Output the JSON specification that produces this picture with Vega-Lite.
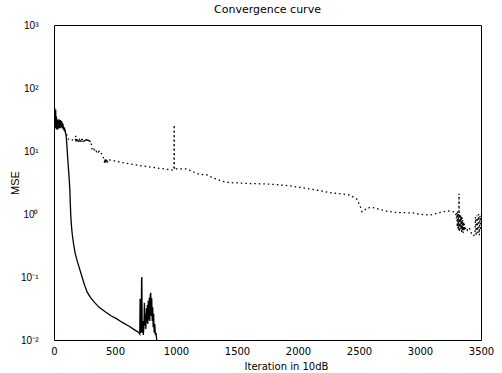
{
  "$schema": "https://vega.github.io/schema/vega-lite/v6.json",
  "autosize": {"type": "none"},
  "width": 427,
  "height": 315,
  "padding": {"left": 54, "top": 25, "right": 21, "bottom": 33},
  "background": "white",
  "config": {
    "view": {"stroke": "black", "strokeWidth": 1},
    "axis": {"domain": false, "grid": false, "ticks": false, "labelColor": "black", "titleColor": "black", "labelFlush": false, "labelOverlap": false}
  },
  "title": {"text": "Convergence curve", "font": "DejaVu Sans", "fontSize": 11, "fontWeight": "normal", "color": "black", "offset": 5},
  "datasets": {
    "solid": [
      {"it":0,"mse":30},{"it":2,"mse":55},{"it":4,"mse":26},{"it":6,"mse":48},{"it":8,"mse":23},{"it":10,"mse":40},{"it":12,"mse":27},{"it":14,"mse":45},{"it":16,"mse":24},{"it":18,"mse":36},{"it":20,"mse":22},{"it":23,"mse":33},{"it":26,"mse":25},{"it":29,"mse":31},{"it":32,"mse":22},{"it":35,"mse":30},{"it":38,"mse":24},{"it":41,"mse":32},{"it":44,"mse":23},{"it":47,"mse":29},{"it":50,"mse":25},{"it":53,"mse":31},{"it":56,"mse":23},{"it":59,"mse":28},{"it":62,"mse":30},{"it":65,"mse":24},{"it":68,"mse":28},{"it":71,"mse":23},{"it":74,"mse":27},{"it":77,"mse":22},{"it":80,"mse":24},{"it":84,"mse":21},{"it":88,"mse":22},{"it":92,"mse":20},{"it":96,"mse":19},{"it":100,"mse":17},{"it":105,"mse":13},{"it":110,"mse":9},{"it":115,"mse":6.5},{"it":120,"mse":4.8},{"it":125,"mse":3.5},{"it":130,"mse":2.4},{"it":134,"mse":1.4},{"it":138,"mse":0.9},{"it":143,"mse":0.65},{"it":150,"mse":0.47},{"it":160,"mse":0.34},{"it":173,"mse":0.24},{"it":190,"mse":0.18},{"it":205,"mse":0.145},{"it":230,"mse":0.1},{"it":250,"mse":0.075},{"it":271,"mse":0.058},{"it":300,"mse":0.047},{"it":330,"mse":0.04},{"it":370,"mse":0.033},{"it":420,"mse":0.028},{"it":470,"mse":0.024},{"it":509,"mse":0.022},{"it":560,"mse":0.019},{"it":616,"mse":0.0165},{"it":660,"mse":0.0145},{"it":698,"mse":0.013},{"it":703,"mse":0.0125},{"it":706,"mse":0.045},{"it":709,"mse":0.013},{"it":714,"mse":0.014},{"it":718,"mse":0.09},{"it":720,"mse":0.1},{"it":723,"mse":0.013},{"it":728,"mse":0.02},{"it":732,"mse":0.012},{"it":737,"mse":0.016},{"it":741,"mse":0.039},{"it":745,"mse":0.017},{"it":749,"mse":0.026},{"it":753,"mse":0.015},{"it":757,"mse":0.032},{"it":761,"mse":0.019},{"it":765,"mse":0.036},{"it":769,"mse":0.018},{"it":773,"mse":0.042},{"it":777,"mse":0.021},{"it":781,"mse":0.047},{"it":785,"mse":0.02},{"it":789,"mse":0.052},{"it":793,"mse":0.056},{"it":797,"mse":0.024},{"it":801,"mse":0.046},{"it":805,"mse":0.02},{"it":809,"mse":0.033},{"it":813,"mse":0.016},{"it":817,"mse":0.026},{"it":821,"mse":0.013},{"it":826,"mse":0.018},{"it":831,"mse":0.012},{"it":836,"mse":0.013},{"it":841,"mse":0.0105},{"it":846,"mse":0.008},{"it":852,"mse":0.005}
    ],
    "dotted": [
      {"it":0,"mse":35},{"it":5,"mse":28},{"it":10,"mse":32},{"it":20,"mse":27},{"it":30,"mse":29},{"it":40,"mse":25},{"it":55,"mse":27},{"it":70,"mse":24},{"it":85,"mse":22},{"it":100,"mse":19},{"it":112,"mse":16},{"it":123,"mse":15},{"it":140,"mse":15.2},{"it":160,"mse":14.8},{"it":176,"mse":14.5},{"it":178,"mse":17.5},{"it":180,"mse":14},{"it":185,"mse":15.5},{"it":189,"mse":13.8},{"it":193,"mse":15.6},{"it":197,"mse":14},{"it":201,"mse":15.4},{"it":205,"mse":13.7},{"it":209,"mse":15.8},{"it":213,"mse":14.2},{"it":217,"mse":15.5},{"it":221,"mse":13.9},{"it":225,"mse":15.7},{"it":229,"mse":14.1},{"it":233,"mse":15.6},{"it":237,"mse":13.8},{"it":241,"mse":15.4},{"it":245,"mse":14.2},{"it":249,"mse":15.6},{"it":253,"mse":14},{"it":257,"mse":15.3},{"it":261,"mse":14.1},{"it":265,"mse":15.5},{"it":269,"mse":13.9},{"it":273,"mse":15.2},{"it":277,"mse":14},{"it":281,"mse":15.1},{"it":285,"mse":13.8},{"it":289,"mse":14.9},{"it":293,"mse":13.6},{"it":297,"mse":14.6},{"it":301,"mse":13.5},{"it":305,"mse":13.2},{"it":309,"mse":11.5},{"it":313,"mse":10.4},{"it":320,"mse":10.1},{"it":327,"mse":10.6},{"it":334,"mse":9.9},{"it":341,"mse":10.4},{"it":348,"mse":9.8},{"it":355,"mse":10.2},{"it":362,"mse":9.6},{"it":370,"mse":9.9},{"it":378,"mse":9.3},{"it":386,"mse":9.4},{"it":395,"mse":8.6},{"it":404,"mse":7.9},{"it":411,"mse":7.4},{"it":415,"mse":6.3},{"it":419,"mse":7.7},{"it":423,"mse":6.4},{"it":427,"mse":7.5},{"it":431,"mse":6.5},{"it":435,"mse":7.3},{"it":439,"mse":6.6},{"it":443,"mse":7.1},{"it":448,"mse":6.9},{"it":455,"mse":7.2},{"it":477,"mse":7.1},{"it":550,"mse":6.6},{"it":650,"mse":6.1},{"it":750,"mse":5.7},{"it":850,"mse":5.35},{"it":950,"mse":5.05},{"it":978,"mse":4.95},{"it":983,"mse":5.1},{"it":985,"mse":26},{"it":987,"mse":5.0},{"it":1000,"mse":5.2},{"it":1085,"mse":5.2},{"it":1150,"mse":4.6},{"it":1191,"mse":4.25},{"it":1249,"mse":4.2},{"it":1290,"mse":3.85},{"it":1331,"mse":3.6},{"it":1380,"mse":3.3},{"it":1438,"mse":3.15},{"it":1520,"mse":3.1},{"it":1600,"mse":3.05},{"it":1742,"mse":3.0},{"it":1850,"mse":2.9},{"it":1931,"mse":2.8},{"it":1988,"mse":2.7},{"it":2095,"mse":2.5},{"it":2200,"mse":2.3},{"it":2284,"mse":2.15},{"it":2360,"mse":2.08},{"it":2424,"mse":2.0},{"it":2481,"mse":1.73},{"it":2506,"mse":1.39},{"it":2525,"mse":1.08},{"it":2540,"mse":1.12},{"it":2564,"mse":1.24},{"it":2605,"mse":1.28},{"it":2670,"mse":1.18},{"it":2736,"mse":1.1},{"it":2800,"mse":1.06},{"it":2941,"mse":1.04},{"it":3000,"mse":0.99},{"it":3081,"mse":0.96},{"it":3150,"mse":1.04},{"it":3221,"mse":1.12},{"it":3260,"mse":1.1},{"it":3290,"mse":1.07},{"it":3298,"mse":0.85},{"it":3302,"mse":1.05},{"it":3305,"mse":0.62},{"it":3308,"mse":1.1},{"it":3311,"mse":0.58},{"it":3314,"mse":1.0},{"it":3317,"mse":0.55},{"it":3319,"mse":1.15},{"it":3320,"mse":2.1},{"it":3321,"mse":0.9},{"it":3324,"mse":0.52},{"it":3327,"mse":1.0},{"it":3330,"mse":0.6},{"it":3333,"mse":0.95},{"it":3336,"mse":0.55},{"it":3339,"mse":0.92},{"it":3342,"mse":0.5},{"it":3345,"mse":0.88},{"it":3348,"mse":0.55},{"it":3351,"mse":0.8},{"it":3354,"mse":0.5},{"it":3357,"mse":0.75},{"it":3360,"mse":0.53},{"it":3364,"mse":0.7},{"it":3368,"mse":0.55},{"it":3375,"mse":0.62},{"it":3390,"mse":0.55},{"it":3405,"mse":0.6},{"it":3420,"mse":0.5},{"it":3435,"mse":0.45},{"it":3450,"mse":0.47},{"it":3455,"mse":0.9},{"it":3460,"mse":0.45},{"it":3467,"mse":0.95},{"it":3473,"mse":0.5},{"it":3480,"mse":1.0},{"it":3486,"mse":0.46},{"it":3492,"mse":0.95},{"it":3497,"mse":0.55},{"it":3500,"mse":0.85}
    ]
  },
  "layer": [
    {
      "data": {"name": "solid"},
      "mark": {"type": "line", "color": "black", "strokeWidth": 1.3, "clip": true, "interpolate": "linear"},
      "encoding": {
        "x": {"field": "it", "type": "quantitative",
          "scale": {"type": "linear", "domain": [0, 3500], "nice": false, "zero": false},
          "axis": {"orient": "bottom", "values": [0,500,1000,1500,2000,2500,3000,3500], "format": "d", "labelPadding": 6, "labelFont": "DejaVu Sans", "labelFontSize": 10, "title": "Iteration in 10dB", "titleFont": "DejaVu Sans", "titleFontSize": 10, "titleFontWeight": "normal", "titlePadding": 5, "titleX": 232}},
        "y": {"field": "mse", "type": "quantitative",
          "scale": {"type": "log", "domain": [0.01, 1000], "nice": false},
          "axis": {"orient": "left", "values": [0.01,0.1,1,10,100,1000],
            "labelPadding": 16, "labelFont": "Liberation Sans", "labelFontSize": 10,
            "labelExpr": "datum.value == 1000 ? '10³' : datum.value == 100 ? '10²' : datum.value == 10 ? '10¹' : datum.value == 1 ? '10⁰' : datum.value == 0.1 ? '10⁻¹' : datum.value == 0.01 ? '10⁻²' : ''",
            "title": "MSE", "titleFont": "Liberation Sans", "titleFontSize": 11, "titleFontWeight": "normal", "titlePadding": 0}}
      }
    },
    {
      "data": {"name": "dotted"},
      "mark": {"type": "line", "color": "black", "strokeWidth": 1.3, "strokeDash": [1.5, 3], "clip": true},
      "encoding": {
        "x": {"field": "it", "type": "quantitative",
          "scale": {"type": "linear", "domain": [0, 3500], "nice": false, "zero": false}},
        "y": {"field": "mse", "type": "quantitative",
          "scale": {"type": "log", "domain": [0.01, 1000], "nice": false}}
      }
    }
  ]
}
